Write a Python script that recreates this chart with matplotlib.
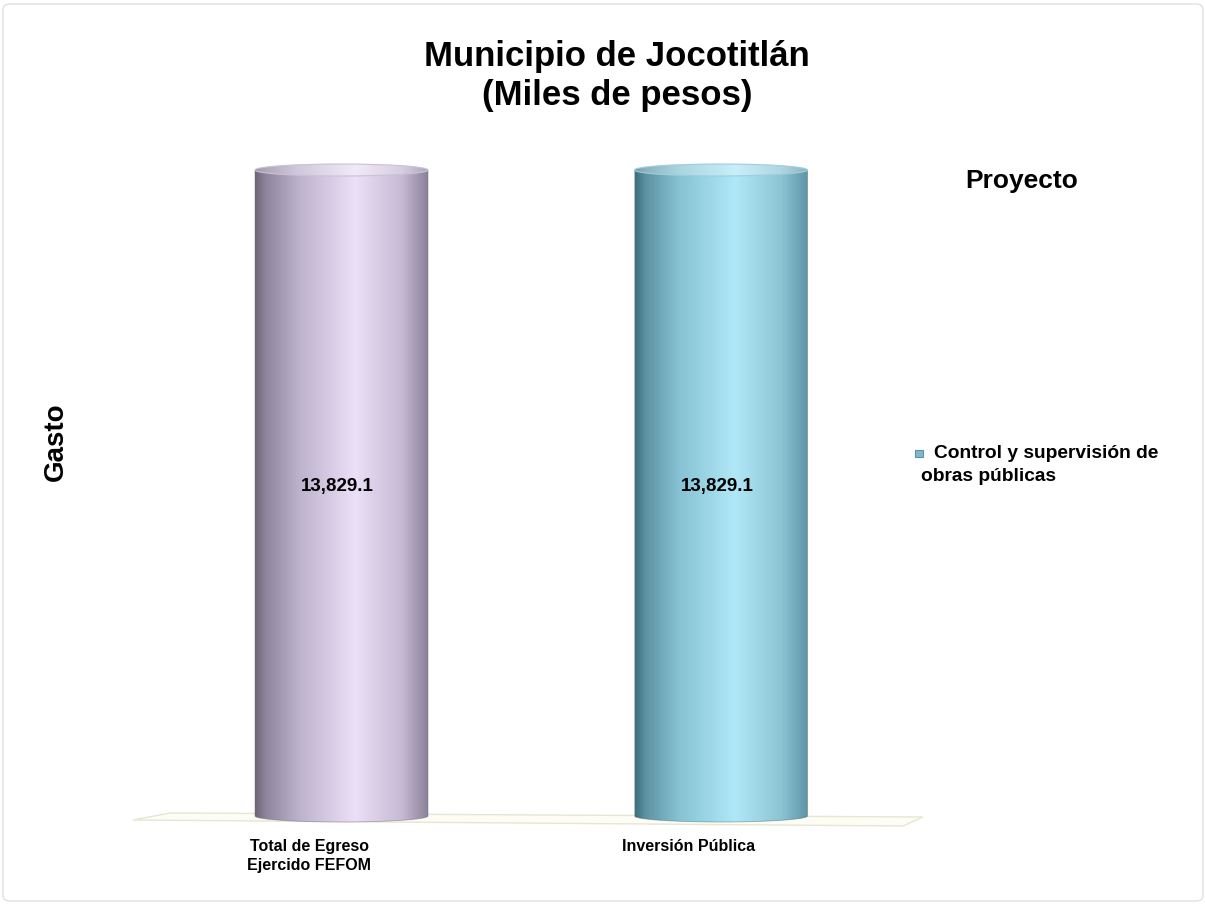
import numpy as np
import matplotlib.pyplot as plt
from matplotlib.colors import LinearSegmentedColormap, to_rgb
from matplotlib.patches import PathPatch, Ellipse, Polygon, Rectangle, FancyBboxPatch
from matplotlib.path import Path
from matplotlib.transforms import ScaledTranslation

plt.rcParams["font.family"] = ["Liberation Sans", "DejaVu Sans"]

W, H = 1205, 905

# chart data
categories = ["Total de Egreso\nEjercido FEFOM", "Inversión Pública"]
values = [13829.1, 13829.1]
value_labels = ["13,829.1", "13,829.1"]
series_name = "Control y supervisión de\nobras públicas"
legend_title = "Proyecto"
y_title = "Gasto"
title = "Municipio de Jocotitlán\n(Miles de pesos)"

# cylinder shading (left -> right)
bar_colors = [
    ["#6e6679", "#8e849c", "#bdb2cc", "#ebe0f7", "#c6bad4", "#8c8299"],
    ["#3f6e7b", "#5d92a2", "#86c2d3", "#b0e8f8", "#8cc4d4", "#5f94a5"],
]
stops = [0.0, 0.06, 0.25, 0.58, 0.85, 1.0]


def fx(px):
    return px / W


def fy(py):
    return 1 - py / H


def lighten(c, amt):
    r = np.array(to_rgb(c))
    return tuple(r + (1 - r) * amt)


fig = plt.figure(figsize=(W / 100, H / 100), dpi=100)

# axes placed in pixel terms
ax_l, ax_r, ax_t, ax_b = 120, 940, 130, 826
ax = fig.add_axes([fx(ax_l), fy(ax_b), (ax_r - ax_l) / W, (ax_b - ax_t) / H])

x_scale = 379.5            # px per category
x0_px = 341.5              # px of first category
zero_px, top_px = 816, 170
upp = max(values) / (zero_px - top_px)   # data units per px
ry = 6 * upp
hw = 173 / x_scale / 2

xs = np.arange(len(categories))
grad = np.linspace(0, 1, 256)[None, :]

for i, (x, v, cols) in enumerate(zip(xs, values, bar_colors)):
    cmap = LinearSegmentedColormap.from_list("c", list(zip(stops, cols)))
    cap_cmap = LinearSegmentedColormap.from_list(
        "cc", list(zip(stops, [lighten(c, 0.3) for c in cols])))

    # body with rounded bottom
    theta = np.linspace(np.pi, 2 * np.pi, 80)
    arc = np.column_stack([x + hw * np.cos(theta), ry * np.sin(theta)])
    verts = np.vstack([[x - hw, v], arc, [x + hw, v], [x - hw, v]])
    codes = [Path.MOVETO] + [Path.LINETO] * (len(verts) - 2) + [Path.CLOSEPOLY]
    body = PathPatch(Path(verts, codes), facecolor="none",
                     edgecolor=cols[0], lw=0.6, alpha=0.5, zorder=3)
    ax.add_patch(body)
    im = ax.imshow(grad, extent=[x - hw, x + hw, -ry, v + ry], aspect="auto",
                   cmap=cmap, zorder=2, interpolation="bicubic")
    im.set_clip_path(body)

    # top cap
    cap = Ellipse((x, v), 2 * hw, 2 * ry, facecolor="none",
                  edgecolor=lighten(cols[2], 0.2), lw=0.8, zorder=5)
    ax.add_patch(cap)
    imc = ax.imshow(grad, extent=[x - hw, x + hw, v - ry, v + ry], aspect="auto",
                    cmap=cap_cmap, zorder=4, interpolation="bicubic")
    imc.set_clip_path(cap)

    ax.text(x - 0.01, v * 0.51, value_labels[i], ha="center",
            va="center", fontsize=13.5, fontweight="bold", zorder=6)

ax.set_xlim((ax_l - x0_px) / x_scale, (ax_r - x0_px) / x_scale)
ax.set_ylim(-(ax_b - zero_px) * upp, (zero_px - ax_t) * upp)

ax.set_xticks(xs)
ax.set_xticklabels(categories, fontsize=11.5, fontweight="bold", linespacing=1.4)
ax.tick_params(axis="x", length=0, pad=9)
shift = ScaledTranslation(-0.32, 0, fig.dpi_scale_trans)
for lab in ax.get_xticklabels():
    lab.set_transform(lab.get_transform() + shift)
ax.set_yticks([])
for s in ax.spines.values():
    s.set_visible(False)
ax.patch.set_alpha(0)

# floor plane, behind the cylinders
floor = Polygon([(fx(170), fy(813)), (fx(923), fy(817)), (fx(903), fy(826)),
                 (fx(133), fy(820))], closed=True, transform=fig.transFigure,
                facecolor="#fdfdf6", edgecolor="#e6e6d2", lw=1.0, zorder=1,
                clip_on=False)
ax.add_patch(floor)

# titles
fig.text(fx(617), fy(76), title, ha="center", va="center", fontsize=25,
         fontweight="bold", linespacing=1.25)
fig.text(fx(56), fy(442), y_title, rotation=90, ha="center", va="center",
         fontsize=20, fontweight="bold")
fig.text(fx(1022), fy(181), legend_title, ha="center", va="center",
         fontsize=19, fontweight="bold")

# legend
fig.patches.append(Rectangle((fx(915), fy(457)), 8 / W, 7 / H,
                             transform=fig.transFigure, facecolor="#7fb9c9",
                             edgecolor="#5f94a5", lw=0.8))
line1, line2 = series_name.split("\n")
fig.text(fx(934), fy(453), line1, ha="left", va="center", fontsize=13.8,
         fontweight="bold")
fig.text(fx(921), fy(476), line2, ha="left", va="center", fontsize=13.8,
         fontweight="bold")

# outer border
fig.patches.append(FancyBboxPatch((fx(3), fy(901)), fx(1200), 897 / H,
                                  boxstyle="round,pad=0,rounding_size=0.006",
                                  transform=fig.transFigure, facecolor="none",
                                  edgecolor="#e0e0e0", lw=1.0))

fig.savefig("out.png", dpi=100)
